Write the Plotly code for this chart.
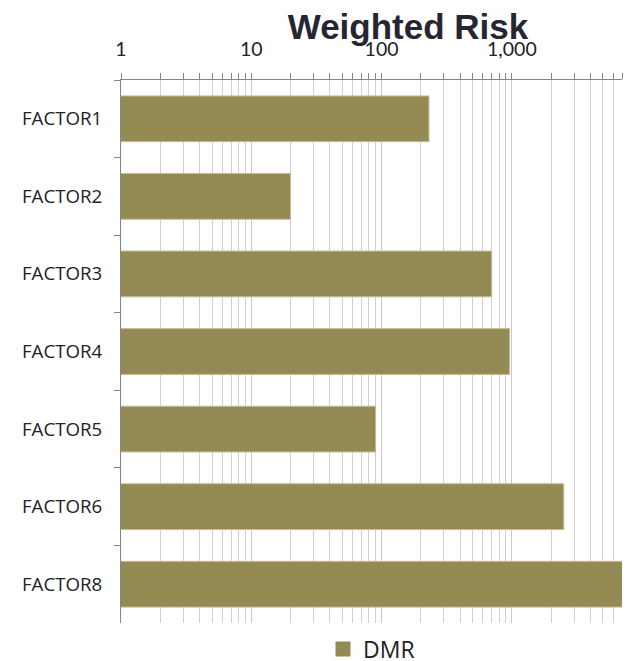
import plotly.graph_objects as go
import math

categories = ["FACTOR1", "FACTOR2", "FACTOR3", "FACTOR4", "FACTOR5", "FACTOR6", "FACTOR8"]
dmr_values = [231, 20, 700, 960, 90, 2500, 9000]
tick_values = [1, 10, 100, 1000]
tick_labels = ["1", "10", "100", "1,000"]
minor_values = [m * 10 ** d for d in range(4) for m in range(2, 10) if m * 10 ** d <= 7000]

BAR_COLOR = "#948A54"

fig = go.Figure()
fig.add_trace(go.Bar(
    y=categories, x=dmr_values, orientation="h", name="DMR",
    marker=dict(color=BAR_COLOR, line=dict(color="#c4bd97", width=1)),
    cliponaxis=True, showlegend=False,
))
# legend entry with a larger square swatch
fig.add_trace(go.Scatter(
    x=[None], y=[None], mode="markers", name="DMR",
    marker=dict(symbol="square", size=15, color=BAR_COLOR),
    showlegend=True,
))

fig.update_layout(
    width=627, height=661,
    margin=dict(l=121, r=5, t=80, b=38, autoexpand=False),
    paper_bgcolor="white", plot_bgcolor="white",
    bargap=0.41,
    title=dict(text="<b>Weighted Risk</b>", x=408 / 627, xanchor="center", xref="container",
               y=1 - 27 / 661, yanchor="middle", yref="container",
               font=dict(family="Liberation Sans, Arial", size=35, color="#262633")),
    showlegend=True,
    legend=dict(orientation="h", x=0.5, xanchor="center", y=-0.048, yanchor="middle",
                font=dict(family="Open Sans", size=23, color="#222"),
                itemwidth=30),
    font=dict(family="Open Sans", color="#222"),
)

fig.update_xaxes(
    type="log", side="top", range=[0, math.log10(7000)],
    tickvals=tick_values, ticktext=tick_labels,
    tickfont=dict(family="Lato, Open Sans", size=19.5, color="#222"),
    showline=True, linecolor="#868686", linewidth=1,
    ticks="outside", ticklen=6, tickcolor="#868686",
    showgrid=True, gridcolor="#c8c8c8", gridwidth=1,
    minor=dict(tickvals=minor_values, ticks="outside", ticklen=6, tickcolor="#868686",
               showgrid=True, gridcolor="#d0d0d0", gridwidth=1),
    ticklabelstandoff=9,
    zeroline=False, automargin=False,
)

fig.update_yaxes(
    autorange="reversed",
    showline=True, linecolor="#868686", linewidth=1,
    ticks="outside", ticklen=6, tickcolor="#868686", tickson="boundaries",
    tickfont=dict(family="Open Sans", size=18.7, color="#222"),
    ticklabelstandoff=14,
    showgrid=False, automargin=False,
)

fig.write_html("out.html",
               config={"displayModeBar": False},
               post_script="document.body.style.margin='0';document.body.style.overflow='hidden';")
